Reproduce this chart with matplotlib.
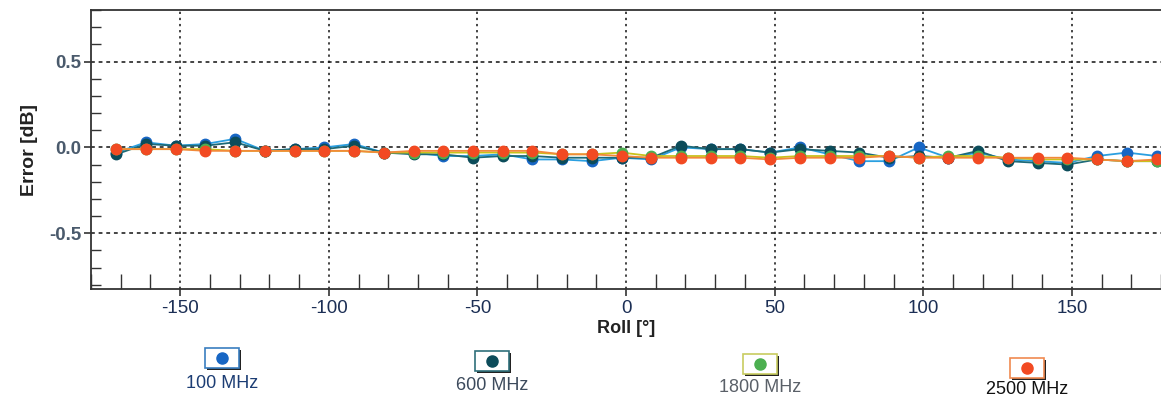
import matplotlib
matplotlib.use("Agg")
import matplotlib.pyplot as plt
from matplotlib.ticker import MultipleLocator, FixedLocator
from matplotlib.patches import Rectangle

plt.rcParams['font.family'] = ['Liberation Sans', 'DejaVu Sans']

roll = [-171.5, -161.5, -151.5, -141.5, -131.5, -121.5, -111.5, -101.5, -91.5,
        -81.5, -71.5, -61.5, -51.5, -41.5, -31.5, -21.5, -11.5, -1.5,
        8.5, 18.5, 28.5, 38.5, 48.5, 58.5, 68.5, 78.5, 88.5,
        98.5, 108.5, 118.5, 128.5, 138.5, 148.5, 158.5, 168.5, 178.5]

err_100 = [-0.03, 0.03, 0.01, 0.02, 0.05, -0.02, -0.01, 0.00, 0.02,
           -0.03, -0.03, -0.05, -0.05, -0.04, -0.07, -0.07, -0.08, -0.06,
           -0.07, 0.00, -0.01, -0.01, -0.03, 0.00, -0.04, -0.08, -0.08,
           0.00, -0.06, -0.03, -0.07, -0.08, -0.09, -0.05, -0.03, -0.05]
err_600 = [-0.04, 0.02, 0.01, 0.01, 0.03, -0.02, -0.01, -0.01, 0.01,
           -0.03, -0.04, -0.04, -0.06, -0.05, -0.05, -0.06, -0.06, -0.06,
           -0.06, 0.01, -0.01, -0.01, -0.03, -0.01, -0.02, -0.03, -0.06,
           -0.05, -0.06, -0.02, -0.08, -0.09, -0.10, -0.07, -0.08, -0.08]
err_1800 = [-0.01, -0.01, -0.01, -0.01, -0.02, -0.02, -0.02, -0.02, -0.02,
            -0.03, -0.03, -0.03, -0.03, -0.03, -0.03, -0.04, -0.04, -0.03,
            -0.05, -0.05, -0.05, -0.05, -0.06, -0.05, -0.05, -0.05, -0.05,
            -0.06, -0.05, -0.05, -0.06, -0.07, -0.07, -0.07, -0.08, -0.08]
err_2500 = [-0.01, -0.01, -0.01, -0.02, -0.02, -0.02, -0.02, -0.02, -0.02,
            -0.03, -0.02, -0.02, -0.02, -0.02, -0.02, -0.04, -0.04, -0.05,
            -0.06, -0.06, -0.06, -0.06, -0.07, -0.06, -0.06, -0.06, -0.05,
            -0.06, -0.06, -0.06, -0.06, -0.06, -0.06, -0.07, -0.08, -0.07]

labels = ["100 MHz", "600 MHz", "1800 MHz", "2500 MHz"]
xticks = [-150, -100, -50, 0, 50, 100, 150]
yticks = [-0.5, 0.0, 0.5]

series = [err_100, err_600, err_1800, err_2500]
line_colors = ["#2a9fe0", "#1d6a78", "#c9c21a", "#f28a3a"]
marker_colors = ["#1766c4", "#0c4c5a", "#4caf50", "#f24a22"]

fig = plt.figure(figsize=(11.61, 4.01), dpi=100)
ax = fig.add_axes([0.0784, 0.279, 0.9216, 0.696])

for ys, lc, mc in zip(series, line_colors, marker_colors):
    ax.plot(roll, ys, color=lc, lw=1.3, marker="o", ms=7.5,
            markerfacecolor=mc, markeredgecolor=mc, zorder=3)

ax.set_xlim(-180, 180)
ax.set_ylim(-0.825, 0.8)
ax.xaxis.set_major_locator(FixedLocator(xticks))
ax.yaxis.set_major_locator(FixedLocator(yticks))
ax.xaxis.set_minor_locator(MultipleLocator(10))
ax.yaxis.set_minor_locator(MultipleLocator(0.1))
ax.set_yticklabels(["-0.5", "0.0", "0.5"])
ax.set_xticklabels([str(v) for v in xticks])

ax.tick_params(axis="both", which="major", direction="out", length=5,
               width=1.2, color="#333333")
ax.tick_params(axis="x", which="minor", direction="in", length=11,
               width=1.0, color="#333333")
ax.tick_params(axis="y", which="minor", direction="in", length=7,
               width=1.0, color="#333333")
ax.tick_params(axis="y", which="major", labelsize=13.5, labelcolor="#4a5a6c", pad=2)
ax.tick_params(axis="x", which="major", labelsize=13.5, labelcolor="#1c2f55", pad=3)
for t in ax.get_yticklabels():
    t.set_fontweight("bold")

ax.grid(True, axis="x", which="major", color="#111111", linestyle=(0, (1.5, 2.5)), lw=1.1)
ax.grid(True, axis="y", which="major", color="#111111", linestyle=(0, (2.5, 2.5)), lw=1.1)
for s in ["left", "bottom", "top"]:
    ax.spines[s].set_color("#333333")
    ax.spines[s].set_linewidth(1.3)
ax.spines["right"].set_visible(False)

ax.set_ylabel("Error [dB]", fontsize=14, fontweight="bold", color="#222222", labelpad=8)
ax.set_xlabel("Roll [°]", fontsize=13, fontweight="bold", color="#222222", labelpad=2)

# legend-like items below the plot
W, H = 1161.0, 401.0
items = [
    (222, 358, 383, "#1c3d74", "#3a7ec0"),
    (492, 361, 385, "#3c4a5c", "#2f6f7a"),
    (760, 364, 388, "#5a6068", "#c8cc60"),
    (1027, 368, 390, "#111111", "#f08a50"),
]
for (cx, by, ly, tc, bc), lab, mc in zip(items, labels, marker_colors):
    bw, bh = 34, 20
    x0 = (cx - bw / 2) / W
    y0 = 1 - (by + bh / 2) / H
    fig.patches.append(Rectangle((x0 + 2 / W, y0 - 2 / H), bw / W, bh / H,
                                 transform=fig.transFigure, facecolor="#222222",
                                 edgecolor="none", zorder=1))
    fig.patches.append(Rectangle((x0, y0), bw / W, bh / H,
                                 transform=fig.transFigure, facecolor="white",
                                 edgecolor=bc, lw=1.2, zorder=2))
    fig.lines.append(plt.Line2D([cx / W], [1 - by / H], marker="o", ms=8,
                                color=mc, transform=fig.transFigure, zorder=3))
    fig.text(cx / W, 1 - ly / H, lab, ha="center", va="center",
             fontsize=13, color=tc)

fig.savefig("out.png", dpi=100)
